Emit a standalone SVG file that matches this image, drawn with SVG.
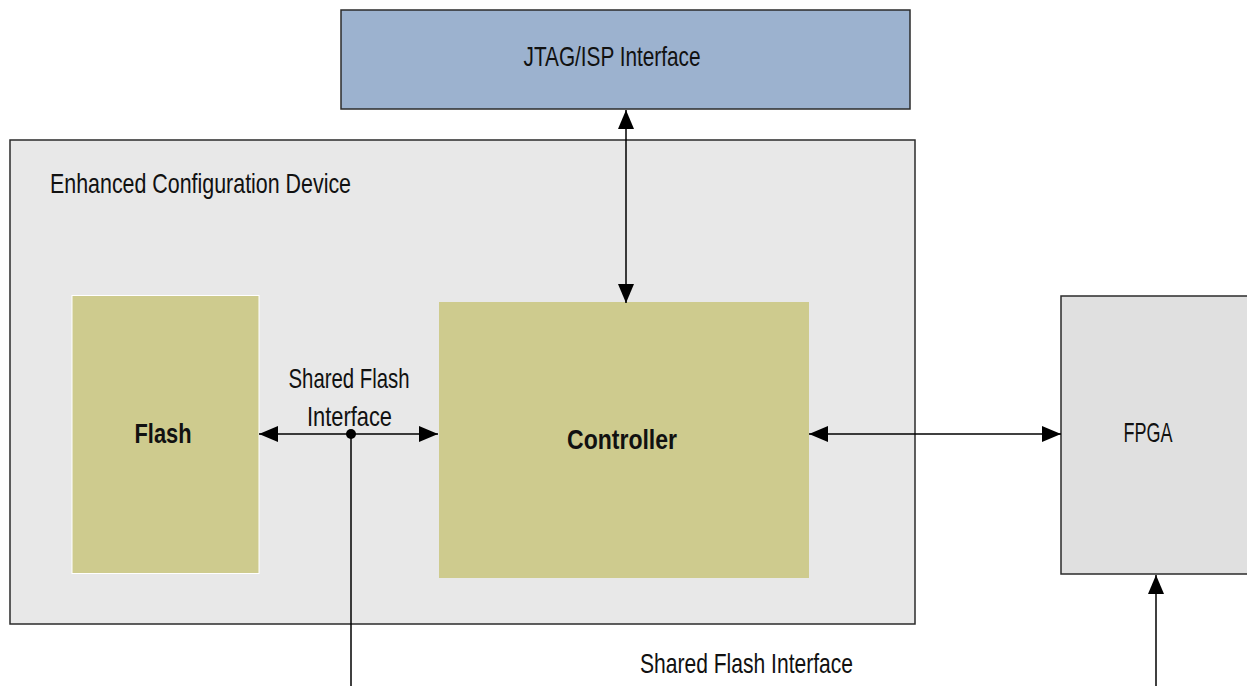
<svg xmlns="http://www.w3.org/2000/svg" width="1247" height="686" viewBox="0 0 1247 686">
  <style>
    .lbl { font-family: "Liberation Sans", Arial, sans-serif; font-size: 28px; fill: #111; }
    .bold { font-weight: bold; }
    .box { stroke: #2b2b2b; stroke-width: 1.5; }
    .wire { stroke: #000; stroke-width: 1.5; fill: none; }
  </style>
  <defs>
    <marker id="arrow" viewBox="0 0 19 16" markerUnits="userSpaceOnUse" markerWidth="19" markerHeight="16" refX="19" refY="8" orient="auto-start-reverse">
      <path d="M0,0 L19,8 L0,16 z" fill="#000"/>
    </marker>
  </defs>
  <rect width="1247" height="686" fill="#ffffff"/>

  <g id="jtag">
    <rect class="box" x="341" y="10" width="569" height="99" fill="#9cb2cf"/>
    <text class="lbl" x="612" y="66" text-anchor="middle" textLength="177" lengthAdjust="spacingAndGlyphs">JTAG/ISP Interface</text>
  </g>

  <g id="ecd">
    <rect class="box" x="10" y="140" width="905" height="484" fill="#e8e8e8"/>
    <text class="lbl" x="50" y="193" textLength="301" lengthAdjust="spacingAndGlyphs">Enhanced Configuration Device</text>
  </g>

  <g id="flash">
    <rect x="72" y="295.5" width="187" height="278" fill="#cecb8e" stroke="#ffffff" stroke-width="1"/>
    <text class="lbl bold" x="163" y="443" text-anchor="middle" textLength="57" lengthAdjust="spacingAndGlyphs">Flash</text>
  </g>

  <g id="controller">
    <rect x="439" y="302" width="370" height="276" fill="#cecb8e"/>
    <text class="lbl bold" x="622" y="449" text-anchor="middle" textLength="110" lengthAdjust="spacingAndGlyphs">Controller</text>
  </g>

  <g id="fpga">
    <rect class="box" x="1061" y="296" width="200" height="278" fill="#e0e0e0"/>
    <text class="lbl" x="1148" y="442" text-anchor="middle" textLength="49" lengthAdjust="spacingAndGlyphs">FPGA</text>
  </g>

  <g id="connectors">
    <line class="wire" x1="626" y1="110" x2="626" y2="303" marker-start="url(#arrow)" marker-end="url(#arrow)"/>
    <line class="wire" x1="259" y1="434" x2="438" y2="434" marker-start="url(#arrow)" marker-end="url(#arrow)"/>
    <circle cx="351" cy="434" r="5" fill="#000"/>
    <line class="wire" x1="351" y1="434" x2="351" y2="686"/>
    <line class="wire" x1="809" y1="434" x2="1061" y2="434" marker-start="url(#arrow)" marker-end="url(#arrow)"/>
    <line class="wire" x1="1156" y1="686" x2="1156" y2="575" marker-end="url(#arrow)"/>
  </g>

  <g id="labels">
    <text class="lbl" x="349" y="388" text-anchor="middle" textLength="121" lengthAdjust="spacingAndGlyphs">Shared Flash</text>
    <text class="lbl" x="349.5" y="426" text-anchor="middle" textLength="85" lengthAdjust="spacingAndGlyphs">Interface</text>
    <text class="lbl" x="640" y="673" textLength="213" lengthAdjust="spacingAndGlyphs">Shared Flash Interface</text>
  </g>
</svg>
